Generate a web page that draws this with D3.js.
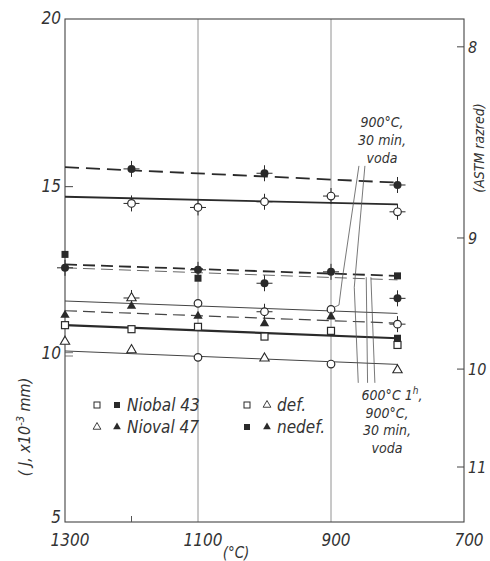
<!DOCTYPE html>
<html><head><meta charset="utf-8">
<script src="https://cdn.jsdelivr.net/npm/d3@7"></script>
<style>
html,body{margin:0;padding:0;background:#fff;}
text{font-family:"DejaVu Sans Condensed","DejaVu Sans",sans-serif;font-style:italic;fill:#333;}
</style></head>
<body><svg id="c" width="490" height="561"></svg>
<script>
// ---- data (temperature °C, J x10^-3 mm) ----
const xTicks = [1300, 1100, 900, 700];
const yTicks = [5, 10, 15, 20];
const astmLabels = [8, 9, 10, 11];
const astmTickJ = [19.17, 13.47, 9.56, 6.64];
const gridTemps = [1100, 900];

// fitted lines: [start, end]
const lineTopDashed   = [[1300, 15.58], [800, 15.12]];
const lineTopSolid    = [[1300, 14.70], [800, 14.47]];
const lineMidDashedA  = [[1300, 12.68], [800, 12.34]];
const lineMidDashedB  = [[1300, 12.58], [800, 12.22]];
const lineThinSolid   = [[1300, 11.59], [800, 11.22]];
const lineTriDashed   = [[1300, 11.30], [800, 10.93]];
const lineThickSolid  = [[1300, 10.87], [800, 10.48]];
const lineLowSolid    = [[1300, 10.10], [800, 9.70]];

// measured points
const filledCircleCross = [[1200,15.53],[1000,15.40],[800,15.05],
  [1300,12.58],[1100,12.52],[1000,12.12],[900,12.46],[800,11.67]];
const openCircleCross = [[1200,14.50],[1100,14.38],[1000,14.55],[900,14.72],[800,14.25],
  [1000,11.27],[800,10.90]];
const openCircle = [[1100,11.52],[900,11.34],[1100,9.91],[900,9.71]];
const filledSquare = [[1300,12.98],[1100,12.27],[800,12.34],[800,10.48]];
const openSquare = [[1300,10.87],[1200,10.75],[1100,10.82],[1000,10.53],[900,10.70],[800,10.28]];
const filledTriangle = [[1300,11.17],[1200,11.44],[1100,11.14],[1000,10.92],[900,11.12]];
const openTriangle = [[1300,10.38],[1200,10.13],[1000,9.88],[800,9.53]];
const openTriangleCross = [[1200,11.68]];

// annotation leaders (data coords)
const leader1 = [[858,15.62],[883,12.25],[888,11.47],[900,11.36]];
const leader2 = [[849,15.62],[865,12.0],[859,9.15]];
const leader3 = [[847,12.30],[845,9.15]];
const leader4 = [[840,12.30],[834,9.15]];
const note1 = ["900°C,", "30 min,", "voda"];
const note2 = ["900°C,", "30 min,", "voda"];

const legendRows = [["Niobal 43","square"],["Nioval 47","triangle"]];
const legendRows2 = [["def.", false],["nedef.", true]];

// ---- drawing ----
const svg = d3.select("#c");
const ink = "#2a2a2a";
const x = d3.scaleLinear().domain([1300, 700]).range([65, 464]);
const y = d3.scaleLinear().domain([5, 20]).range([522, 19]);
const line = d3.line().x(d => x(d[0])).y(d => y(d[1]));

// gridlines
svg.append("g").selectAll("line").data(gridTemps).join("line")
  .attr("x1", d => x(d)).attr("x2", d => x(d)).attr("y1", y(20)).attr("y2", y(5))
  .attr("stroke", "#777").attr("stroke-width", 0.8);

// frame
svg.append("rect").attr("x", x(1300)).attr("y", y(20))
  .attr("width", x(700) - x(1300)).attr("height", y(5) - y(20))
  .attr("fill", "none").attr("stroke", "#444").attr("stroke-width", 1.1);

// left ticks
svg.append("line").attr("x1", x(1300)).attr("x2", x(1300)+8).attr("y1", y(15)).attr("y2", y(15)).attr("stroke", "#444");
[9.95, 10.05].forEach(v => svg.append("line").attr("x1", x(1300)).attr("x2", x(1300)+8)
  .attr("y1", y(v)).attr("y2", y(v)).attr("stroke", "#555").attr("stroke-width", 0.8));
// bottom minor tick
svg.append("line").attr("x1", x(1200)).attr("x2", x(1200)).attr("y1", y(5)).attr("y2", y(5)-6).attr("stroke", "#555");

// left axis labels
svg.append("g").selectAll("text").data(yTicks).join("text")
  .attr("x", 61).attr("y", d => y(d) + (d === 5 ? 1 : 5)).attr("text-anchor", "end")
  .attr("font-size", 17).text(d => d);
// bottom labels
svg.append("g").selectAll("text").data(xTicks).join("text")
  .attr("x", d => x(d) + 5).attr("y", 546).attr("text-anchor", "middle")
  .attr("font-size", 17).text(d => d);
// right ASTM axis
astmLabels.forEach((g, i) => {
  const yy = y(astmTickJ[i]);
  svg.append("line").attr("x1", x(700) - 7).attr("x2", x(700)).attr("y1", yy).attr("y2", yy).attr("stroke", "#444");
  svg.append("text").attr("x", x(700) + 4).attr("y", yy + 6).attr("font-size", 16).text(g);
});

// axis titles
const yl = svg.append("text").attr("transform", "translate(30,427) rotate(-90)")
  .attr("text-anchor", "middle").attr("font-size", 16);
yl.append("tspan").text("( J, x10");
yl.append("tspan").attr("dy", -6).attr("font-size", 11).text("-3");
yl.append("tspan").attr("dy", 6).text(" mm)");
svg.append("text").attr("transform", "translate(484,148) rotate(-90)")
  .attr("text-anchor", "middle").attr("font-size", 14).text("(ASTM razred)");
svg.append("text").attr("x", 236).attr("y", 558).attr("text-anchor", "middle")
  .attr("font-size", 15).text("(°C)");

// fitted lines
function drawLine(data, dash, w, col) {
  svg.append("path").datum(data).attr("d", line).attr("fill", "none")
    .attr("stroke", col || ink).attr("stroke-width", w).attr("stroke-dasharray", dash || null);
}
drawLine(lineTopDashed, "14,7", 1.8);
drawLine(lineTopSolid, null, 1.8);
drawLine(lineMidDashedA, "12,6", 1.8);
drawLine(lineMidDashedB, "12,6", 1.0, "#666");
drawLine(lineThinSolid, null, 1.0, "#444");
drawLine(lineTriDashed, "12,6", 1.2, "#444");
drawLine(lineThickSolid, null, 2.2);
drawLine(lineLowSolid, null, 1.0, "#444");

// leaders
[leader1, leader2, leader3, leader4].forEach(l => drawLine(l, null, 0.8, "#555"));

// markers
const g = svg.append("g");
function cross(data) {
  g.selectAll(null).data(data).join("path")
    .attr("d", d => `M${x(d[0])-8},${y(d[1])}h16M${x(d[0])},${y(d[1])-8}v16`)
    .attr("stroke", ink).attr("stroke-width", 1);
}
cross(filledCircleCross); cross(openCircleCross); cross(openTriangleCross);
g.selectAll(null).data(filledCircleCross).join("circle")
  .attr("cx", d => x(d[0])).attr("cy", d => y(d[1])).attr("r", 4).attr("fill", ink);
g.selectAll(null).data(openCircleCross.concat(openCircle)).join("circle")
  .attr("cx", d => x(d[0])).attr("cy", d => y(d[1])).attr("r", 3.8)
  .attr("fill", "#fff").attr("stroke", ink).attr("stroke-width", 1.2);
const sq = 7;
g.selectAll(null).data(filledSquare).join("rect")
  .attr("x", d => x(d[0]) - sq/2).attr("y", d => y(d[1]) - sq/2).attr("width", sq).attr("height", sq).attr("fill", ink);
g.selectAll(null).data(openSquare).join("rect")
  .attr("x", d => x(d[0]) - sq/2).attr("y", d => y(d[1]) - sq/2).attr("width", sq).attr("height", sq)
  .attr("fill", "#fff").attr("stroke", ink).attr("stroke-width", 1.2);
const tri = d3.symbol().type(d3.symbolTriangle).size(38);
g.selectAll(null).data(filledTriangle).join("path")
  .attr("d", tri).attr("transform", d => `translate(${x(d[0])},${y(d[1])})`).attr("fill", ink);
g.selectAll(null).data(openTriangle.concat(openTriangleCross)).join("path")
  .attr("d", tri).attr("transform", d => `translate(${x(d[0])},${y(d[1])})`)
  .attr("fill", "#fff").attr("stroke", ink).attr("stroke-width", 1.1);

// annotations
note1.forEach((t, i) => svg.append("text").attr("x", 382).attr("y", 127 + i * 18)
  .attr("text-anchor", "middle").attr("font-size", 14).attr("fill", "#444").text(t));
const n2 = svg.append("text").attr("x", 392).attr("y", 400)
  .attr("text-anchor", "middle").attr("font-size", 14).attr("fill", "#444");
n2.append("tspan").text("600°C  1");
n2.append("tspan").attr("dy", -6).attr("font-size", 10).text("h");
n2.append("tspan").attr("dy", 6).text(",");
note2.forEach((t, i) => svg.append("text").attr("x", 387).attr("y", 417.5 + i * 17.5)
  .attr("text-anchor", "middle").attr("font-size", 14).attr("fill", "#444").text(t));

// legend
function legSym(cx, cy, shape, filled) {
  if (shape === "square") {
    svg.append("rect").attr("x", cx - 3).attr("y", cy - 3).attr("width", 6).attr("height", 6)
      .attr("fill", filled ? ink : "#fff").attr("stroke", ink).attr("stroke-width", filled ? 0 : 1);
  } else {
    svg.append("path").attr("d", d3.symbol().type(d3.symbolTriangle).size(26))
      .attr("transform", `translate(${cx},${cy})`)
      .attr("fill", filled ? ink : "#fff").attr("stroke", ink).attr("stroke-width", filled ? 0 : 0.9);
  }
}
legendRows.forEach((r, i) => {
  const cy = 405 + i * 22;
  legSym(97, cy, r[1], false);
  legSym(117, cy, r[1], true);
  svg.append("text").attr("x", 127).attr("y", cy + 6).attr("font-size", 17).text(r[0]);
});
legendRows2.forEach((r, i) => {
  const cy = 405 + i * 22;
  legSym(247, cy, "square", r[1]);
  legSym(267, cy, "triangle", r[1]);
  svg.append("text").attr("x", 277).attr("y", cy + 6).attr("font-size", 17).text(r[0]);
});
</script></body></html>
